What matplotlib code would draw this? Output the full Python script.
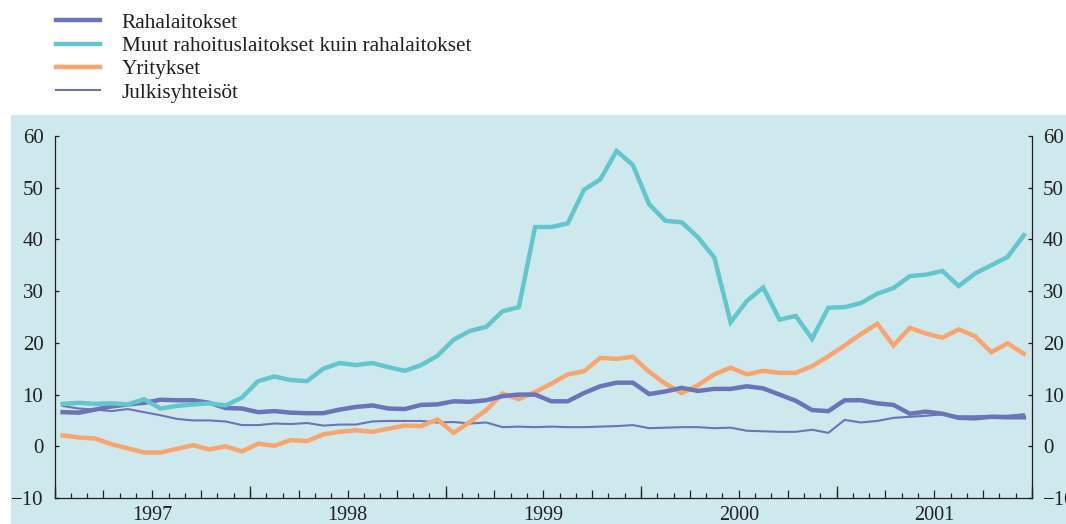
import numpy as np
import matplotlib
matplotlib.use("Agg")
import matplotlib.pyplot as plt
from matplotlib.patches import Rectangle
from matplotlib.ticker import FixedLocator, FixedFormatter, MultipleLocator

plt.rcParams['font.family'] = ['Liberation Serif', 'DejaVu Serif']

# ---------------- data (monthly, Jan 1997 - Dec 2001) ----------------
years = ["1997", "1998", "1999", "2000", "2001"]

labels = ["Rahalaitokset",
          "Muut rahoituslaitokset kuin rahalaitokset",
          "Yritykset",
          "Julkisyhteisöt"]

rahalaitokset = [6.6, 6.5, 7.1, 7.7, 8.1, 8.4, 9.0, 8.9, 8.9, 8.4, 7.4, 7.3,
                 6.6, 6.8, 6.5, 6.4, 6.4, 7.1, 7.6, 7.9, 7.3, 7.2, 8.0, 8.1,
                 8.7, 8.6, 8.9, 9.7, 10.0, 10.0, 8.7, 8.7, 10.3, 11.6, 12.3, 12.3,
                 10.1, 10.6, 11.3, 10.7, 11.1, 11.1, 11.6, 11.2, 10.0, 8.8, 7.0, 6.8,
                 8.9, 8.9, 8.3, 8.0, 6.3, 6.7, 6.3, 5.5, 5.4, 5.7, 5.6, 5.6]

muut_rahoituslaitokset = [8.2, 8.4, 8.2, 8.3, 8.1, 9.1, 7.3, 7.8, 8.1, 8.3, 7.9, 9.4,
                          12.6, 13.5, 12.8, 12.6, 15.0, 16.1, 15.7, 16.1, 15.3, 14.6, 15.7, 17.5,
                          20.6, 22.3, 23.1, 26.1, 26.9, 42.4, 42.4, 43.1, 49.6, 51.6, 57.1, 54.4,
                          46.8, 43.6, 43.3, 40.4, 36.5, 24.0, 28.1, 30.7, 24.5, 25.2, 20.8, 26.8,
                          26.9, 27.7, 29.5, 30.6, 32.9, 33.2, 33.9, 31.0, 33.4, 35.0, 36.6, 40.8]

yritykset = [2.1, 1.7, 1.5, 0.4, -0.4, -1.2, -1.2, -0.5, 0.2, -0.6, 0.0, -1.0,
             0.5, 0.1, 1.2, 1.0, 2.3, 2.8, 3.1, 2.8, 3.4, 4.0, 3.9, 5.2,
             2.6, 4.7, 7.0, 10.2, 9.1, 10.5, 12.1, 13.9, 14.5, 17.1, 16.9, 17.3,
             14.4, 12.1, 10.3, 11.8, 13.9, 15.2, 13.9, 14.6, 14.2, 14.2, 15.5, 17.4,
             19.5, 21.7, 23.7, 19.5, 22.9, 21.8, 21.0, 22.6, 21.3, 18.2, 19.9, 17.9]

julkisyhteisot = [7.8, 7.3, 7.1, 6.8, 7.2, 6.6, 6.0, 5.3, 5.0, 5.0, 4.8, 4.1,
                  4.1, 4.4, 4.3, 4.5, 4.0, 4.2, 4.2, 4.8, 4.9, 4.9, 4.9, 4.6,
                  4.7, 4.4, 4.6, 3.7, 3.8, 3.7, 3.8, 3.7, 3.7, 3.8, 3.9, 4.1,
                  3.5, 3.6, 3.7, 3.7, 3.5, 3.6, 3.0, 2.9, 2.8, 2.8, 3.2, 2.6,
                  5.1, 4.6, 4.9, 5.5, 5.7, 5.9, 6.2, 5.8, 5.8, 5.9, 5.9, 6.2]

# ---------------- style ----------------
BG = "#cde9ed"
C_BLUE = "#6b74b8"
C_TEAL = "#63c6cd"
C_ORANGE = "#f9a56d"
C_TEXT = "#231f20"

W, H = 1066, 524
fig = plt.figure(figsize=(W / 100, H / 100), dpi=100)
fig.patch.set_facecolor("white")
fig.patches.append(Rectangle((11 / W, 0), 1 - 11 / W, 1 - 115 / H,
                             transform=fig.transFigure, facecolor=BG,
                             edgecolor="none", zorder=-10))

L, R, T, B = 54.5 / W, 1032 / W, 1 - 136 / H, 1 - 498 / H
ax = fig.add_axes([L, B, R - L, T - B])
ax.set_zorder(1)
ax.patch.set_visible(False)

n = len(rahalaitokset)
x = np.arange(n) + 0.5

l_jul, = ax.plot(x, julkisyhteisot, color=C_BLUE, lw=1.5, solid_joinstyle="miter")
l_yri, = ax.plot(x, yritykset, color=C_ORANGE, lw=3.2, solid_joinstyle="miter")
l_rah, = ax.plot(x, rahalaitokset, color=C_BLUE, lw=3.2, solid_joinstyle="miter")
l_muu, = ax.plot(x, muut_rahoituslaitokset, color=C_TEAL, lw=3.2, solid_joinstyle="miter")

ax.set_xlim(0, n)
ax.set_ylim(-10, 60)

for s in ["left", "right", "bottom"]:
    ax.spines[s].set_color(C_TEXT)
    ax.spines[s].set_linewidth(0.9)
ax.spines["top"].set_visible(False)

# y axis: both sides, inward ticks
ax.yaxis.set_major_locator(MultipleLocator(10))
ax.tick_params(axis="y", which="major", left=True, right=True,
               labelleft=True, labelright=True, direction="in",
               length=3, width=0.9, color=C_TEXT, pad=8,
               labelsize=15, labelcolor=C_TEXT)

# x axis: quarter ticks (medium), monthly minor ticks, year labels mid-year
qpos = np.arange(0, n + 1, 3)
qlab = [years[int(p) // 12] if int(p) % 12 == 6 else "" for p in qpos]
ax.xaxis.set_major_locator(FixedLocator(qpos))
ax.xaxis.set_major_formatter(FixedFormatter(qlab))
ax.xaxis.set_minor_locator(MultipleLocator(1))
ax.tick_params(axis="x", which="major", direction="in", length=5.5, width=0.9,
               color=C_TEXT, pad=6, labelsize=14.5, labelcolor=C_TEXT)
ax.tick_params(axis="x", which="minor", direction="in", length=3.5, width=0.9,
               color=C_TEXT)

# taller ticks at year boundaries
sec = ax.secondary_xaxis("bottom")
sec.set_xticks(np.arange(0, n + 1, 12))
sec.tick_params(direction="in", length=9, width=0.9, color=C_TEXT,
                labelbottom=False)
sec.spines["bottom"].set_visible(False)

fig.legend([l_rah, l_muu, l_yri, l_jul], labels, loc="upper left",
           bbox_to_anchor=(55.7 / W, 1 - 13 / H), frameon=False,
           fontsize=15.3, handlelength=2.1, handletextpad=1.0,
           labelspacing=0.16, borderpad=0, borderaxespad=0,
           labelcolor=C_TEXT)

fig.savefig("out.png", dpi=100, facecolor=fig.get_facecolor())
